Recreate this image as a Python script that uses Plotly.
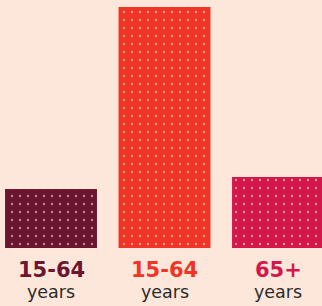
import plotly.graph_objects as go

categories = ["15-64 years", "15-64 years", "65+ years"]
values = [59, 241, 71]
top_labels = ["15-64", "15-64", "65+"]
bottom_labels = ["years", "years", "years"]
colors = ["#6c1530", "#f03426", "#d4174b"]
bg = "#fde7da"

xpos = list(range(len(values)))

fig = go.Figure()
fig.add_trace(go.Bar(
    x=xpos, y=values, width=0.81,
    marker=dict(color=colors, line=dict(width=0),
                pattern=dict(shape=".", fgcolor=bg, bgcolor=colors, size=8, solidity=0.07, fillmode="overlay")),
    hoverinfo="skip",
))

for i in xpos:
    fig.add_annotation(x=i, y=-0.089, xref="x", yref="paper", text="<b>%s</b>" % top_labels[i],
                       showarrow=False, font=dict(family="DejaVu Sans", size=21, color=colors[i]),
                       yanchor="middle", xanchor="center")
    fig.add_annotation(x=i, y=-0.178, xref="x", yref="paper", text=bottom_labels[i],
                       showarrow=False, font=dict(family="DejaVu Sans", size=17.5, color="#2b2b2b"),
                       yanchor="middle", xanchor="center")

fig.update_layout(
    width=322, height=306,
    margin=dict(l=0, r=0, t=0, b=58),
    paper_bgcolor=bg, plot_bgcolor=bg,
    showlegend=False,
    xaxis=dict(range=[-51/113.5, 271/113.5], visible=False, fixedrange=True),
    yaxis=dict(range=[0, 248], visible=False, fixedrange=True),
)

fig.write_html("out.html", config={"displayModeBar": False},
               post_script="document.body.style.margin='0';document.body.style.background='%s';" % bg)
